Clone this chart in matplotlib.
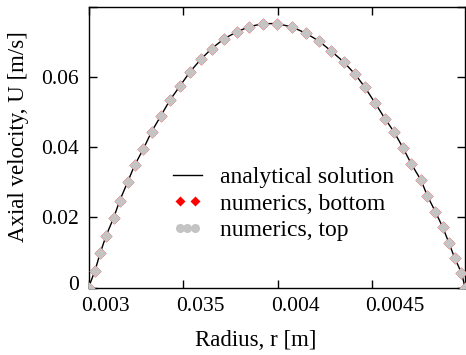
import matplotlib
matplotlib.use("Agg")
import matplotlib.pyplot as plt
import matplotlib.transforms as mtransforms
from matplotlib.lines import Line2D
from matplotlib.legend_handler import HandlerLine2D

plt.rcParams['font.family'] = ['Liberation Serif', 'DejaVu Serif']

# radius [m] and axial velocity [m/s]
r = [0.003000, 0.003034, 0.003062, 0.003093, 0.003133, 0.003165, 0.003206,
     0.003244, 0.003290, 0.003333, 0.003382, 0.003429, 0.003484, 0.003537,
     0.003593, 0.003651, 0.003717, 0.003785, 0.003849, 0.003922, 0.003997,
     0.004077, 0.004151, 0.004218, 0.004282, 0.004348, 0.004410, 0.004460,
     0.004514, 0.004567, 0.004616, 0.004662, 0.004706, 0.004757, 0.004791,
     0.004833, 0.004872, 0.004904, 0.004936, 0.004971, 0.004990]
u_bottom = [0.0, 0.0048, 0.0099, 0.0148, 0.0199, 0.0248, 0.0300, 0.0349,
            0.0395, 0.0444, 0.0489, 0.0533, 0.0575, 0.0615, 0.0650, 0.0681,
            0.0709, 0.0729, 0.0743, 0.0752, 0.0752, 0.0742, 0.0724, 0.0702,
            0.0674, 0.0643, 0.0607, 0.0571, 0.0526, 0.0481, 0.0442, 0.0398,
            0.0352, 0.0306, 0.0261, 0.0216, 0.0172, 0.0128, 0.0083, 0.0042, 0.0]
u_top = u_bottom
u_analytic = u_bottom

xticks = [0.003, 0.0035, 0.004, 0.0045]
xticklabels = ['0.003', '0.035', '0.004', '0.0045']
yticks = [0, 0.02, 0.04, 0.06, 0.08]
yticklabels = ['0', '0.02', '0.04', '0.06', '']

fig = plt.figure(figsize=(4.66, 3.55), dpi=100)
ax = fig.add_axes([0.19, 0.19, 0.808, 0.791])

line, = ax.plot(r, u_analytic, color='black', lw=1.0, zorder=2)
red, = ax.plot(r, u_bottom, 'D', color='#ff0000', ms=6.5, mec='none', zorder=3)
gray, = ax.plot(r, u_top, 'D', color='#c4c4c4', ms=5.7, mec='none', zorder=4)

ax.set_xlim(0.003, 0.00499)
ax.set_ylim(0, 0.08)
ax.set_xticks(xticks)
ax.set_xticklabels(xticklabels)
ax.set_yticks(yticks)
ax.set_yticklabels(yticklabels)
ax.tick_params(direction='in', length=6, width=1.0, top=True, right=True,
               labelsize=15.5, pad=7)
for sp in ax.spines.values():
    sp.set_linewidth(1.0)

# tick labels sit slightly right of their ticks in the original
off = mtransforms.ScaledTranslation(-7 / 100, 0, fig.dpi_scale_trans)
for lab in ax.get_xticklabels():
    lab.set_ha('left')
    lab.set_transform(lab.get_transform() + off)
up = mtransforms.ScaledTranslation(0, 5 / 100, fig.dpi_scale_trans)
zero_lab = ax.get_yticklabels()[0]
zero_lab.set_transform(zero_lab.get_transform() + up)

ax.set_xlabel('Radius, r [m]', fontsize=16.5, va='center')
ax.xaxis.set_label_coords(0.443, -0.188)
ax.set_ylabel('Axial velocity, U [m/s]', fontsize=16.5, va='center')
ax.yaxis.set_label_coords(-0.187, 0.538)

leg_gray = Line2D([], [], ls='none', marker='o', color='#c4c4c4', ms=6.5, mec='none')
leg_red = Line2D([], [], ls='none', marker='D', color='#ff0000', ms=5.5, mec='none')
ax.legend([line, leg_red, leg_gray],
          ['analytical solution', 'numerics, bottom', 'numerics, top'],
          handler_map={leg_red: HandlerLine2D(numpoints=2),
                       leg_gray: HandlerLine2D(numpoints=3)},
          loc='upper left', bbox_to_anchor=(0.224, 0.43), frameon=False,
          fontsize=17, handlelength=1.23, handletextpad=0.77,
          labelspacing=0.2, borderpad=0, borderaxespad=0)

fig.savefig('out.png', dpi=100)
